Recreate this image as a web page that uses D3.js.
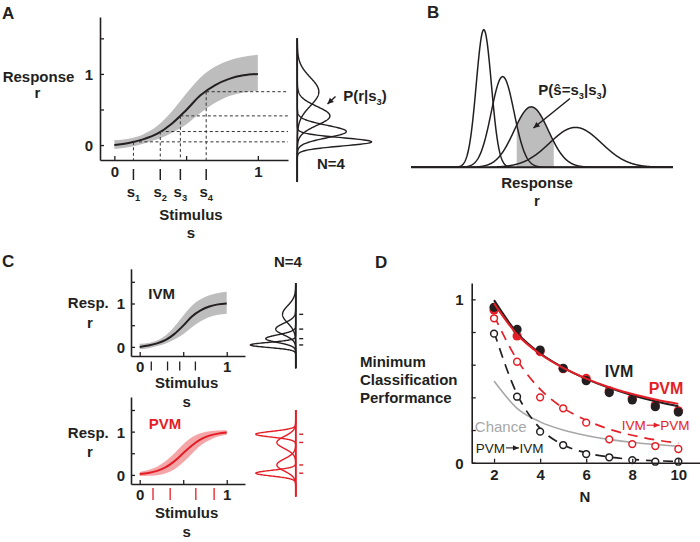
<!DOCTYPE html>
<html><head><meta charset="utf-8">
<script src="https://cdn.jsdelivr.net/npm/d3@7"></script>
<style>
body{margin:0;background:#fff}
svg{display:block}
text{font-family:"Liberation Sans",Arial,Helvetica,sans-serif}
</style>
</head><body>
<svg id="c" width="700" height="542"></svg>
<script>
// ---------------- DATA ----------------
const stimGrid   = [0, 0.1, 0.2, 0.3, 0.4, 0.5, 0.6, 0.7, 0.8, 0.9, 1.0];
const ivmMean    = [0, 0.03, 0.08, 0.16, 0.30, 0.49, 0.70, 0.84, 0.93, 0.98, 1.0];
const ivmUpper   = [0.07, 0.09, 0.15, 0.27, 0.47, 0.72, 0.95, 1.10, 1.19, 1.24, 1.27];
const ivmLower   = [-0.055, -0.03, 0.02, 0.08, 0.17, 0.29, 0.45, 0.59, 0.69, 0.74, 0.765];
const pvmMean    = [0.022, 0.046, 0.093, 0.179, 0.319, 0.5, 0.681, 0.821, 0.907, 0.954, 0.978];
const pvmUpper   = [0.07, 0.115, 0.19, 0.32, 0.5, 0.71, 0.87, 0.96, 1.01, 1.025, 1.03];
const pvmLower   = [-0.025, -0.02, -0.005, 0.04, 0.13, 0.29, 0.49, 0.68, 0.8, 0.885, 0.925];
const ivmStim    = [0.133, 0.32, 0.46, 0.64];
const ivmResp    = [0.045, 0.19, 0.41, 0.75];
const ivmSd      = [0.058, 0.088, 0.132, 0.2];
const pvmStim    = [0.153, 0.35, 0.645, 0.855];
const pvmResp    = [0.04, 0.23, 0.75, 0.94];
const pvmSd      = [0.066, 0.14, 0.14, 0.066];
const shadeRange = [0.298, 0.585];
const nVals      = [2, 3, 4, 5, 6, 7, 8, 9, 10];
const ivmPerf    = [0.951, 0.816, 0.69, 0.578, 0.502, 0.429, 0.384, 0.343, 0.31];
const pvmPerf    = [0.935, 0.776, 0.68, 0.575, 0.516, 0.44, 0.394, 0.353, 0.318];
const ivmFit     = [0.995, 0.795, 0.67, 0.582, 0.513, 0.458, 0.413, 0.376, 0.345];
const pvmFit     = [0.975, 0.785, 0.665, 0.58, 0.515, 0.462, 0.42, 0.387, 0.36];
const ivmToPvm   = [0.884, 0.618, 0.4, 0.333, 0.245, 0.143, 0.114, 0.102, 0.084];
const ivmToPvmFit= [0.90, 0.63, 0.45, 0.335, 0.26, 0.205, 0.168, 0.14, 0.12];
const pvmToIvm   = [0.79, 0.404, 0.19, 0.108, 0.053, 0.033, 0.016, 0.006, 0.006];
const pvmToIvmFit= [0.80, 0.42, 0.21, 0.11, 0.06, 0.035, 0.02, 0.012, 0.008];
const chance     = [0.5, 0.333, 0.25, 0.2, 0.167, 0.143, 0.125, 0.111, 0.1];
const tuningTicksY = [0, 0.5, 1, 1.5];
const tuningTicksX = [0, 0.5, 1];
const perfTicksY = [0, 0.2, 0.4, 0.6, 0.8, 1];
const perfTicksX = [2, 4, 6, 8, 10];

// ---------------- HELPERS ----------------
const INK = "#231f20", RED = "#e41e26", GREY = "#bdbdbd";
const svg = d3.select("#c");

function txt(g, x, y, s, o = {}) {
  return g.append("text").attr("x", x).attr("y", y).text(s)
    .attr("font-size", o.size || 15).attr("font-weight", o.weight || "bold")
    .attr("text-anchor", o.anchor || "middle").attr("fill", o.fill || INK);
}
function subTxt(g, x, y, base, sub, o = {}) {
  const t = g.append("text").attr("x", x).attr("y", y)
    .attr("font-size", o.size || 15).attr("font-weight", "bold")
    .attr("text-anchor", o.anchor || "middle").attr("fill", o.fill || INK);
  t.append("tspan").text(base);
  t.append("tspan").text(sub).attr("font-size", (o.size || 15) * 0.62).attr("dy", 4);
  if (o.after) t.append("tspan").text(o.after).attr("dy", -4);
  return t;
}
function gauss(r, m, s) { return Math.exp(-0.5 * ((r - m) / s) ** 2) / (s * Math.sqrt(2 * Math.PI)); }
function styleAxis(g, color) {
  g.selectAll("path.domain").attr("stroke", color).attr("stroke-width", 1.6);
  g.selectAll(".tick line").attr("stroke", color).attr("stroke-width", 1.3);
  g.selectAll(".tick text").attr("font-size", 15).attr("font-weight", "bold")
    .attr("font-family", "'Liberation Sans',Arial,sans-serif").attr("fill", INK);
  g.attr("font-family", null);
}
function arrow(g, x1, y1, x2, y2, color, w = 1.5, L = 6, W = 3) {
  g.append("line").attr("x1", x1).attr("y1", y1).attr("x2", x2).attr("y2", y2)
    .attr("stroke", color).attr("stroke-width", w);
  const a = Math.atan2(y2 - y1, x2 - x1);
  const p = [[x2, y2],
    [x2 - L * Math.cos(a) + W * Math.sin(a), y2 - L * Math.sin(a) - W * Math.cos(a)],
    [x2 - L * Math.cos(a) - W * Math.sin(a), y2 - L * Math.sin(a) + W * Math.cos(a)]];
  g.append("path").attr("d", "M" + p.map(q => q.join(",")).join("L") + "Z").attr("fill", color);
}
// "A → B" label with drawn arrow
function arrowLabel(g, x0, y, a, b, color) {
  const t1 = txt(g, x0, y, a, { size: 13.5, weight: "normal", fill: color, anchor: "start" });
  const w1 = t1.node().getComputedTextLength();
  const ax0 = x0 + w1 + 1, ax1 = ax0 + 13;
  arrow(g, ax0, y - 4.8, ax1, y - 4.8, color, 1.1, 6, 2.6);
  txt(g, ax1 + 0.5, y, b, { size: 13.5, weight: "normal", fill: color, anchor: "start" });
}

// tuning-curve panel
function tuning(o) {
  const g = svg.append("g");
  const x = d3.scaleLinear().domain([-0.1, 1.21]).range(o.xr);
  const y = d3.scaleLinear().domain([-0.21, 1.8]).range(o.yr);
  const band = d3.area().curve(d3.curveMonotoneX)
    .x((d, i) => x(stimGrid[i])).y0((d, i) => y(o.lower[i])).y1((d, i) => y(o.upper[i]));
  g.append("path").attr("d", band(stimGrid)).attr("fill", o.band).attr("stroke", "none");
  const line = d3.line().curve(d3.curveMonotoneX).x((d, i) => x(stimGrid[i])).y(d => y(d));
  g.append("path").attr("d", line(o.mean)).attr("fill", "none").attr("stroke", o.color).attr("stroke-width", 2);
  const ax = g.append("g").attr("transform", `translate(0,${o.yr[0]})`)
    .call(d3.axisBottom(x).tickValues(tuningTicksX).tickSizeInner(-4).tickSizeOuter(0).tickPadding(o.xpad)
      .tickFormat(d => (d === 0 || d === 1) ? d3.format("d")(d) : ""));
  styleAxis(ax, INK);
  const ay = g.append("g").attr("transform", `translate(${o.xr[0]},0)`)
    .call(d3.axisLeft(y).tickValues(tuningTicksY).tickSizeInner(-4).tickSizeOuter(0).tickPadding(o.ypad)
      .tickFormat(d => (d === 0 || d === 1) ? d3.format("d")(d) : ""));
  styleAxis(ay, INK);
  ay.selectAll(".tick text").attr("dy", "0.36em");
  return { g, x, y };
}

// response-distribution stack
function dists(o) {
  const g = svg.append("g");
  const dens = d3.scaleLinear().domain([0, 1]).range([o.ax, o.ax + o.dir * o.k]);
  const rs = d3.range(o.rDom[0], o.rDom[1] + 1e-9, 0.004);
  o.means.forEach((m, i) => {
    const l = d3.line().x(r => dens(gauss(r, m, o.sds[i]))).y(r => o.y(r));
    g.append("path").attr("d", l(rs)).attr("fill", "none").attr("stroke", o.color).attr("stroke-width", 1.4);
  });
  g.append("line").attr("x1", o.ax).attr("x2", o.ax).attr("y1", o.y(o.rDom[0])).attr("y2", o.y(o.rDom[1]))
    .attr("stroke", o.color).attr("stroke-width", 1.6);
  if (o.marks) o.means.forEach(m => {
    g.append("line").attr("x1", o.ax + 3.5).attr("x2", o.ax + 7.5).attr("y1", o.y(m)).attr("y2", o.y(m))
      .attr("stroke", o.color).attr("stroke-width", 1.4);
  });
  return g;
}

// ---------------- PANEL A ----------------
const A = tuning({ xr: [100, 288], yr: [160, 17], mean: ivmMean, upper: ivmUpper, lower: ivmLower,
  color: INK, band: GREY, xpad: 6, ypad: 7 });
ivmStim.forEach((s, i) => {
  const xs = A.x(s), yr = A.y(ivmResp[i]);
  A.g.append("line").attr("x1", xs).attr("x2", xs).attr("y1", yr).attr("y2", 160)
    .attr("stroke", "#333").attr("stroke-width", 1).attr("stroke-dasharray", "3,2.5");
  A.g.append("line").attr("x1", xs).attr("x2", 288).attr("y1", yr).attr("y2", yr)
    .attr("stroke", "#333").attr("stroke-width", 1).attr("stroke-dasharray", "3,2.5");
  A.g.append("line").attr("x1", xs).attr("x2", xs).attr("y1", 169).attr("y2", 180)
    .attr("stroke", INK).attr("stroke-width", 1.5);
  subTxt(A.g, xs, 197, "s", String(i + 1));
});
txt(svg, 38.5, 81.5, "Response");
txt(svg, 37.5, 97.5, "r");
txt(svg, 191, 220, "Stimulus");
txt(svg, 191, 238, "s");
dists({ ax: 297.3, dir: 1, k: 10.8, y: A.y, rDom: [-0.52, 1.5], means: ivmResp, sds: ivmSd, color: INK });
subTxt(svg, 365, 101, "P(r|s", "3", { after: ")" });
arrow(svg, 335.5, 96.5, 327.5, 104, INK);
txt(svg, 331, 168.5, "N=4");
txt(svg, 2, 18.5, "A", { size: 17, anchor: "start" });

// ---------------- PANEL B ----------------
const gB = svg.append("g");
const xB = d3.scaleLinear().domain([-0.515, 1.5]).range([411, 673]);
const yB = d3.scaleLinear().domain([0, 7]).range([167.3, 167.3 - 140]);
const rsB = d3.range(-0.515, 1.5001, 0.003);
const shadeR = rsB.filter(r => r >= shadeRange[0] && r <= shadeRange[1]);
gB.append("path").attr("d", d3.area().x(r => xB(r)).y0(yB(0)).y1(r => yB(gauss(r, ivmResp[2], ivmSd[2])))(shadeR))
  .attr("fill", GREY);
ivmResp.forEach((m, i) => {
  gB.append("path").attr("d", d3.line().x(r => xB(r)).y(r => yB(gauss(r, m, ivmSd[i])))(rsB))
    .attr("fill", "none").attr("stroke", INK).attr("stroke-width", 1.5);
});
gB.append("line").attr("x1", xB(-0.515)).attr("x2", xB(1.5)).attr("y1", yB(0)).attr("y2", yB(0))
  .attr("stroke", INK).attr("stroke-width", 1.8);
const tB = svg.append("text").attr("x", 572.5).attr("y", 95).attr("text-anchor", "middle")
  .attr("font-size", 15).attr("font-weight", "bold").attr("fill", INK);
tB.append("tspan").text("P(ŝ=s");
tB.append("tspan").text("3").attr("font-size", 9.3).attr("dy", 4);
tB.append("tspan").text("|s").attr("dy", -4);
tB.append("tspan").text("3").attr("font-size", 9.3).attr("dy", 4);
tB.append("tspan").text(")").attr("dy", -4);
arrow(svg, 570, 98.5, 533.5, 128, INK);
txt(svg, 537, 188, "Response");
txt(svg, 537, 206, "r");
txt(svg, 427, 17.5, "B", { size: 17, anchor: "start" });

// ---------------- PANEL C ----------------
txt(svg, 2, 267, "C", { size: 17, anchor: "start" });
txt(svg, 288, 267, "N=4");
const CI = tuning({ xr: [131, 245], yr: [356, 268.8], mean: ivmMean, upper: ivmUpper, lower: ivmLower,
  color: INK, band: GREY, xpad: 5, ypad: 6 });
ivmStim.forEach(s => CI.g.append("line").attr("x1", CI.x(s)).attr("x2", CI.x(s)).attr("y1", 361.5).attr("y2", 370.5)
  .attr("stroke", INK).attr("stroke-width", 1.3));
txt(svg, 161.7, 298.5, "IVM");
txt(svg, 88.3, 307.5, "Resp.");
txt(svg, 90, 328, "r");
txt(svg, 186.7, 387.5, "Stimulus");
txt(svg, 186.7, 406.5, "s");
dists({ ax: 295.7, dir: -1, k: 6.6, y: CI.y, rDom: [-0.49, 1.47], means: ivmResp, sds: ivmSd, color: INK, marks: true });

const CP = tuning({ xr: [131, 245], yr: [484, 397], mean: pvmMean, upper: pvmUpper, lower: pvmLower,
  color: RED, band: "rgba(228,30,38,0.4)", xpad: 5, ypad: 6 });
pvmStim.forEach(s => CP.g.append("line").attr("x1", CP.x(s)).attr("x2", CP.x(s)).attr("y1", 488).attr("y2", 500)
  .attr("stroke", RED).attr("stroke-width", 1.3));
txt(svg, 165, 429, "PVM", { fill: RED });
txt(svg, 88.3, 437.5, "Resp.");
txt(svg, 90, 456.5, "r");
txt(svg, 186.7, 518, "Stimulus");
txt(svg, 186.7, 536.5, "s");
dists({ ax: 295.7, dir: -1, k: 6.6, y: CP.y, rDom: [-0.5, 1.5], means: pvmResp, sds: pvmSd, color: RED, marks: true });

// ---------------- PANEL D ----------------
txt(svg, 375, 268, "D", { size: 17, anchor: "start" });
const gD = svg.append("g");
const xD = d3.scaleLinear().domain([1.03, 10.94]).range([471.7, 700]);
const yD = d3.scaleLinear().domain([0, 1.1]).range([462.7, 283]);
const lineD = d3.line().curve(d3.curveMonotoneX).x((d, i) => xD(nVals[i])).y(d => yD(d));
function pathD(data, color, w, dash) {
  const p = gD.append("path").attr("d", lineD(data)).attr("fill", "none").attr("stroke", color).attr("stroke-width", w);
  if (dash) p.attr("stroke-dasharray", dash);
}
pathD(chance, "#a7a7a7", 1.6);
pathD(pvmToIvmFit, INK, 1.7, "10,7");
pathD(ivmToPvmFit, RED, 1.7, "10,7");
function dotsD(data, color, filled) {
  gD.selectAll(null).data(data).enter().append("circle")
    .attr("cx", (d, i) => xD(nVals[i])).attr("cy", d => yD(d)).attr("r", filled ? 4.6 : 3.4)
    .attr("fill", filled ? color : "#fff").attr("stroke", color).attr("stroke-width", filled ? 0 : 1.5);
}
dotsD(pvmToIvm, INK, false);
dotsD(ivmToPvm, RED, false);
dotsD(pvmPerf, RED, true);
dotsD(ivmPerf, INK, true);
pathD(ivmFit, INK, 2);
pathD(pvmFit, RED, 2);
const axD = gD.append("g").attr("transform", "translate(0,462.7)")
  .call(d3.axisBottom(xD).tickValues(perfTicksX).tickSizeInner(-4).tickSizeOuter(0).tickPadding(7));
styleAxis(axD, INK);
const ayD = gD.append("g").attr("transform", "translate(471.7,0)")
  .call(d3.axisLeft(yD).tickValues(perfTicksY).tickSizeInner(-4).tickSizeOuter(0).tickPadding(8)
    .tickFormat(d => (d === 0 || d === 1) ? d3.format("d")(d) : ""));
styleAxis(ayD, INK);
ayD.selectAll(".tick text").attr("dy", "0.36em");
txt(svg, 585, 501.5, "N");
txt(svg, 360, 366.5, "Minimum", { anchor: "start" });
txt(svg, 360, 385, "Classification", { anchor: "start" });
txt(svg, 360, 403.3, "Performance", { anchor: "start" });
txt(svg, 619, 376.5, "IVM", { size: 16 });
txt(svg, 666, 394, "PVM", { size: 16, fill: RED });
arrowLabel(svg, 621.7, 430, "IVM", "PVM", RED);
txt(svg, 500.7, 432, "Chance", { size: 15, weight: "normal", fill: "#a7a7a7" });
arrowLabel(svg, 475.7, 452.7, "PVM", "IVM", INK);
</script>
</body></html>
